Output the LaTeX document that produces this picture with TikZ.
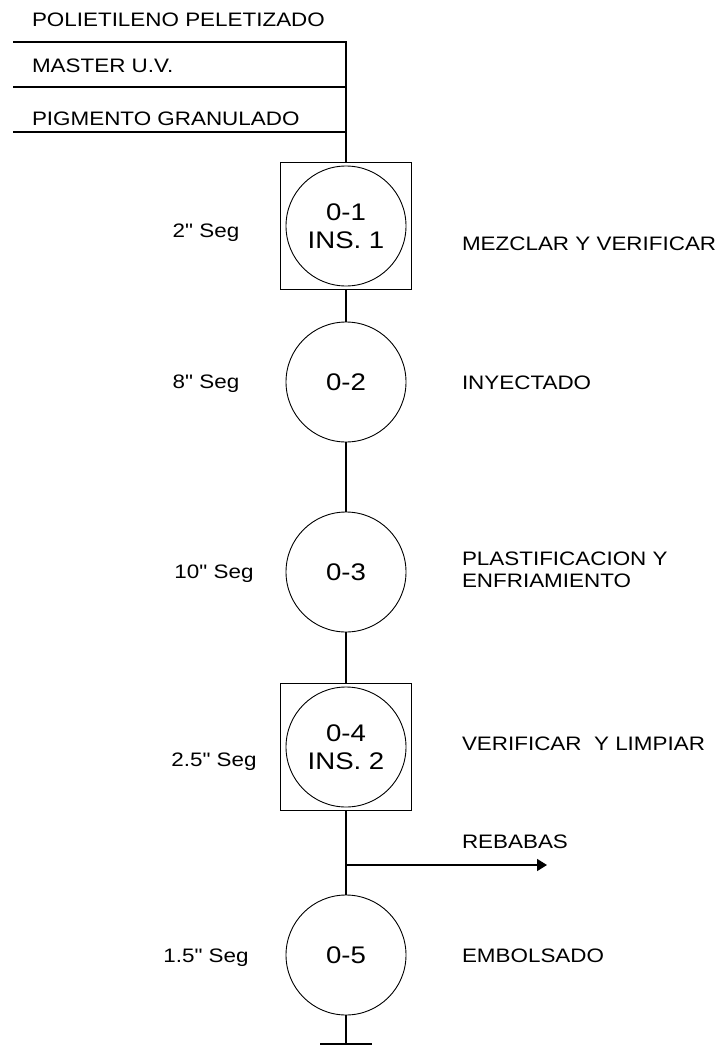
\documentclass[tikz,border=0pt]{standalone}
\usepackage{fontspec}
\setmainfont[FakeStretch=1.15, Ligatures=TeXOff]{Liberation Sans}
\usetikzlibrary{arrows.meta}

\begin{document}
\begin{tikzpicture}[
	x=1pt, y=-1pt,
	oper/.style={circle, draw, line width=0.9pt, minimum size=120pt, inner sep=0pt,
		align=center, font=\fontsize{24}{28}\selectfont},
	insp/.style={rectangle, draw, line width=0.9pt, minimum width=131pt,
		minimum height=127pt, inner sep=0pt},
	tiempo/.style={anchor=base, inner sep=0pt, font=\fontsize{19.5}{22}\selectfont},
	etiqueta/.style={anchor=base west, inner sep=0pt, align=left,
		font=\fontsize{19.5}{22}\selectfont},
	flujo/.style={line width=1.5pt},
	every node/.style={outer sep=0pt},
]
\useasboundingbox (0,0) rectangle (726,1046);
% #1: center, #2: name, #3: text in circle.
\def\operacion(#1)#2#3{
	\node[oper] (#2) at (#1) {#3};
}
% Same circle, inside a square (named #2box).
\def\inspeccion(#1)#2#3{
	\node[insp] (#2box) at (#1) {};
	\node[oper] (#2) at (#1) {#3};
}
% \conectar{from}{to} (vertical only).
\def\conectar#1#2{
	\draw[flujo] (#1) -- (#2);
}
	% materiales de entrada
	\node[etiqueta] (pol) at (32,27) {POLIETILENO PELETIZADO};
	\node[etiqueta] (mas) at (32,73) {MASTER U.V.};
	\node[etiqueta] (pig) at (32,126) {PIGMENTO GRANULADO};
	\coordinate (l1) at (13,42);
	\coordinate (l2) at (13,87);
	\coordinate (l3) at (13,132);

	\inspeccion(346,226){ins1}{0-1\\INS. 1}
	\operacion(346,382){op2}{0-2}
	\operacion(346,572){op3}{0-3}
	\inspeccion(346,747){ins2}{0-4\\INS. 2}
	\operacion(346,955){op5}{0-5}

	\draw[flujo] (l1) -- (l1 -| ins1box) -- (ins1box.north);
	\draw[flujo] (l2) -- (l2 -| ins1box);
	\draw[flujo] (l3) -- (l3 -| ins1box);
	\conectar{ins1box.south}{op2.north}
	\conectar{op2.south}{op3.north}
	\conectar{op3.south}{ins2box.north}
	\conectar{ins2box.south}{op5.north}
	\coordinate (fin) at (346,1044);
	\conectar{op5.south}{fin}
	\draw[flujo] ([xshift=-26pt]fin) -- ([xshift=26pt]fin);

	% desperdicio
	\coordinate (reb) at (346,865);
	\coordinate (rebfin) at (547,865);
	\draw[flujo, -{Triangle[length=10pt, width=12pt]}] (reb) -- (rebfin);
	\node[etiqueta] (rebtxt) at (462,848) {REBABAS};

	% tiempos
	\node[tiempo] (t1) at (206,237) {2" Seg};
	\node[tiempo] (t2) at (206,388) {8" Seg};
	\node[tiempo] (t3) at (214,578) {10" Seg};
	\node[tiempo] (t4) at (214,766) {2.5" Seg};
	\node[tiempo] (t5) at (206,962) {1.5" Seg};

	% descripciones
	\node[etiqueta] (d1) at (462,250) {MEZCLAR Y VERIFICAR};
	\node[etiqueta] (d2) at (462,389) {INYECTADO};
	\node[etiqueta] (d3) at (462,587) {PLASTIFICACION Y\\ENFRIAMIENTO};
	\node[etiqueta] (d4) at (462,750) {VERIFICAR~ Y LIMPIAR};
	\node[etiqueta] (d5) at (462,962) {EMBOLSADO};
\end{tikzpicture}
\end{document}
